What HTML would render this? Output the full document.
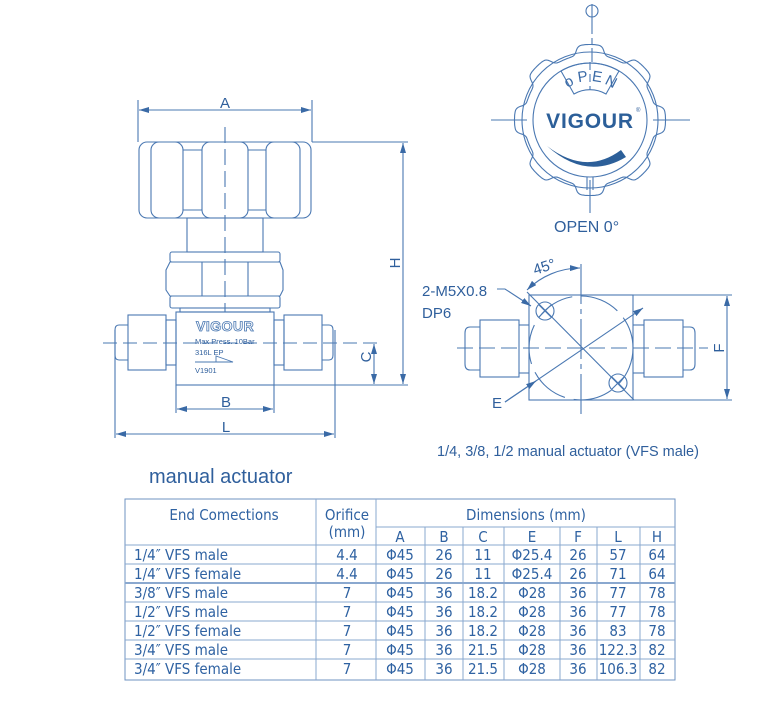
<!DOCTYPE html>
<html><head><meta charset="utf-8"><style>
html,body{margin:0;padding:0;background:#fff;}
svg{display:block;font-family:"Liberation Sans",sans-serif;}
</style></head><body>
<svg id="s" width="780" height="708" viewBox="0 0 780 708" xmlns="http://www.w3.org/2000/svg">
<defs>
<marker id="ar" viewBox="0 0 10 6" refX="10" refY="3" markerWidth="10" markerHeight="6" orient="auto-start-reverse" markerUnits="userSpaceOnUse"><path d="M0,0L10,3L0,6z" fill="#3a6aa6"/></marker>
</defs>
<g fill="none" stroke="#4a78b2" stroke-width="1.1">
<line x1="138" y1="100" x2="138" y2="142"/><line x1="312" y1="100" x2="312" y2="142"/>
<line x1="139" y1="110" x2="311" y2="110" marker-start="url(#ar)" marker-end="url(#ar)"/>
<rect x="139" y="142" width="172" height="76" rx="8"/>
<rect x="151" y="142" width="32" height="76" rx="8"/>
<rect x="202" y="142" width="46" height="76" rx="8"/>
<rect x="266" y="142" width="34" height="76" rx="8"/>
<line x1="183" y1="150" x2="202" y2="150"/><line x1="183" y1="210" x2="202" y2="210"/>
<line x1="248" y1="150" x2="266" y2="150"/><line x1="248" y1="210" x2="266" y2="210"/>
<rect x="187" y="218" width="76" height="34"/>
<rect x="170" y="252" width="110" height="10" rx="2"/>
<path d="M170,262 H280 L283,270 V290 L280,296 H170 L166,290 V270 Z"/>
<line x1="202" y1="262" x2="202" y2="296"/><line x1="248" y1="262" x2="248" y2="296"/>
<rect x="170" y="296" width="110" height="12" rx="2"/>
<rect x="180" y="308" width="90" height="4"/>
<rect x="176" y="312" width="98" height="73"/>
<rect x="128" y="315" width="38" height="55"/>
<path d="M128,325 H119 Q115,325 115,330 V355 Q115,360 119,360 H128"/>
<rect x="166" y="320" width="10" height="45"/>
<rect x="284" y="315" width="38" height="55"/>
<path d="M322,325 H329 Q333,325 333,330 V355 Q333,360 329,360 H322"/>
<rect x="274" y="320" width="10" height="45"/>
<line x1="103" y1="343" x2="380" y2="343" stroke-dasharray="14,6"/>
<line x1="225" y1="127" x2="225" y2="312" stroke-dasharray="16,6"/>
<line x1="312" y1="142" x2="408" y2="142"/><line x1="274" y1="385" x2="408" y2="385"/>
<line x1="403" y1="143" x2="403" y2="384" marker-start="url(#ar)" marker-end="url(#ar)"/>
<line x1="374" y1="344" x2="374" y2="384" marker-start="url(#ar)" marker-end="url(#ar)"/>
<line x1="176" y1="385" x2="176" y2="413"/><line x1="274" y1="385" x2="274" y2="413"/>
<line x1="177" y1="409" x2="273" y2="409" marker-start="url(#ar)" marker-end="url(#ar)"/>
<line x1="115" y1="330" x2="115" y2="438"/><line x1="335" y1="330" x2="335" y2="438"/>
<line x1="116" y1="434" x2="334" y2="434" marker-start="url(#ar)" marker-end="url(#ar)"/>
<path d="M195,362 H233 L216,356 V362" stroke-width="0.9"/>

<circle cx="592" cy="11" r="6"/>
<line x1="592" y1="4" x2="592" y2="62" stroke-dasharray="30,4,6,4"/>
<path id="scal" d=""/>
<circle cx="590" cy="120" r="68"/>
<circle cx="590" cy="120" r="57"/>
<path d="M561,71 A57,57 0 0 1 619,71 L606,94 A32,32 0 0 0 574,94 Z"/>
<line x1="491" y1="120" x2="527" y2="120"/><line x1="653" y1="120" x2="690" y2="120"/>
<line x1="590" y1="62" x2="590" y2="90" stroke-dasharray="8,4"/>
<line x1="590" y1="180" x2="590" y2="213"/>
<line x1="587" y1="177" x2="587" y2="190"/><line x1="593" y1="177" x2="593" y2="190"/>

<rect x="529" y="295" width="104" height="105"/>
<circle cx="581" cy="348" r="52" stroke-dasharray="40,9"/>
<circle cx="545" cy="311" r="9"/><circle cx="618" cy="383" r="9"/>
<line x1="539" y1="305" x2="551" y2="317"/><line x1="551" y1="305" x2="539" y2="317"/>
<line x1="612" y1="377" x2="624" y2="389"/><line x1="624" y1="377" x2="612" y2="389"/>
<rect x="480" y="320" width="39" height="57"/>
<path d="M480,327 H470 Q465,327 465,333 V364 Q465,370 470,370 H480"/>
<line x1="519" y1="325" x2="529" y2="325"/><line x1="519" y1="373" x2="529" y2="373"/>
<rect x="644" y="320" width="39" height="57"/>
<path d="M683,327 H690 Q695,327 695,333 V364 Q695,370 690,370 H683"/>
<line x1="633" y1="325" x2="644" y2="325"/><line x1="633" y1="373" x2="644" y2="373"/>
<line x1="457" y1="348" x2="708" y2="348" stroke-dasharray="16,6"/>
<line x1="581" y1="264" x2="581" y2="416" stroke-dasharray="40,5,5,5"/>
<line x1="527" y1="292" x2="634" y2="400"/>
<line x1="505" y1="402" x2="643" y2="308" marker-end="url(#ar)"/>
<line x1="505" y1="402" x2="536" y2="381" marker-end="url(#ar)"/>
<path d="M527,290 A76,76 0 0 1 580,268" marker-start="url(#ar)" marker-end="url(#ar)"/>
<path d="M497,289 H505 L531,306" marker-end="url(#ar)"/>
<line x1="633" y1="295" x2="732" y2="295"/><line x1="633" y1="400" x2="732" y2="400"/>
<line x1="727" y1="296" x2="727" y2="399" marker-start="url(#ar)" marker-end="url(#ar)"/>
</g>
<path d="M547,146 Q586,176 621,150 L626,157 Q586,181 547,146 Z" fill="#2c5f99"/>
<g fill="#2f5f9c">
<text x="225" y="108" font-size="15" text-anchor="middle">A</text>
<text x="226" y="407" font-size="15" text-anchor="middle">B</text>
<text x="226" y="432" font-size="15" text-anchor="middle">L</text>
<text transform="translate(400,263) rotate(-90)" font-size="15" text-anchor="middle">H</text>
<text transform="translate(371,357) rotate(-90)" font-size="15" text-anchor="middle">C</text>
<text transform="translate(724,348) rotate(-90)" font-size="15" text-anchor="middle">F</text>
<text x="196" y="331" font-size="14" font-weight="bold" fill="#fff" stroke="#4a78b2" stroke-width="0.8" letter-spacing="0.5">VIGOUR</text>
<text x="195" y="344" font-size="7.5">Max Press. 10Bar</text>
<text x="195" y="355" font-size="7.5">316L  EP</text>
<text x="195" y="373" font-size="7.5">V1901</text>
<g font-size="15" text-anchor="middle" fill="#3a6aa6">
<text transform="translate(571,86) rotate(-27)">o</text>
<text transform="translate(583.5,81.5) rotate(-9)">P</text>
<text transform="translate(596.5,81.5) rotate(9)">E</text>
<text transform="translate(609,86) rotate(27)">N</text>
</g>
<text x="590" y="128" font-size="21" font-weight="bold" text-anchor="middle" fill="#2c5f99" letter-spacing="0.8">VIGOUR</text>
<text x="636" y="112" font-size="6">®</text>
<text x="554" y="232" font-size="16">OPEN  0°</text>
<text transform="translate(535,275) rotate(-18)" font-size="15">45°</text>
<text x="422" y="296" font-size="15">2-M5X0.8</text>
<text x="422" y="318" font-size="15">DP6</text>
<text x="492" y="408" font-size="15">E</text>
<text x="437" y="456" font-size="14.5">1/4, 3/8, 1/2 manual actuator (VFS male)</text>
<text x="149" y="483" font-size="20">manual actuator</text>
</g>
<g stroke="#8aa8cf" stroke-width="1" fill="none">
<rect x="125" y="499" width="550" height="181" stroke="#6f93c2"/>
<line x1="316" y1="499" x2="316" y2="680"/>
<line x1="376" y1="499" x2="376" y2="680"/>
<line x1="376" y1="527" x2="675" y2="527"/>
<line x1="425" y1="527" x2="425" y2="680"/><line x1="463" y1="527" x2="463" y2="680"/>
<line x1="504" y1="527" x2="504" y2="680"/><line x1="560" y1="527" x2="560" y2="680"/>
<line x1="597" y1="527" x2="597" y2="680"/><line x1="640" y1="527" x2="640" y2="680"/>
<line x1="125" y1="545" x2="675" y2="545"/><line x1="125" y1="564" x2="675" y2="564"/>
<line x1="125" y1="583" x2="675" y2="583" stroke-width="2"/><line x1="125" y1="602" x2="675" y2="602"/>
<line x1="125" y1="621" x2="675" y2="621"/><line x1="125" y1="640" x2="675" y2="640"/>
<line x1="125" y1="659" x2="675" y2="659"/>
</g>
<g fill="#2f62a2" font-size="15" font-family="'DejaVu Sans Condensed','Liberation Sans',sans-serif">
<text x="224" y="520" text-anchor="middle">End Comections</text>
<text x="347" y="520" text-anchor="middle">Orifice</text>
<text x="347" y="537" text-anchor="middle">(mm)</text>
<text x="526" y="520" text-anchor="middle">Dimensions (mm)</text>
<g text-anchor="middle">
<text x="400" y="542">A</text><text x="444" y="542">B</text><text x="483" y="542">C</text><text x="532" y="542">E</text><text x="578" y="542">F</text><text x="618" y="542">L</text><text x="657" y="542">H</text>
</g>
<text x="134" y="560">1/4″  VFS male</text>
<text x="134" y="579">1/4″  VFS female</text>
<text x="134" y="598">3/8″  VFS male</text>
<text x="134" y="617">1/2″  VFS male</text>
<text x="134" y="636">1/2″  VFS female</text>
<text x="134" y="655">3/4″  VFS male</text>
<text x="134" y="674">3/4″  VFS female</text>
<g text-anchor="middle">
<text x="347" y="560">4.4</text><text x="400" y="560">Φ45</text><text x="444" y="560">26</text><text x="483" y="560">11</text><text x="532" y="560">Φ25.4</text><text x="578" y="560">26</text><text x="618" y="560">57</text><text x="657" y="560">64</text>
<text x="347" y="579">4.4</text><text x="400" y="579">Φ45</text><text x="444" y="579">26</text><text x="483" y="579">11</text><text x="532" y="579">Φ25.4</text><text x="578" y="579">26</text><text x="618" y="579">71</text><text x="657" y="579">64</text>
<text x="347" y="598">7</text><text x="400" y="598">Φ45</text><text x="444" y="598">36</text><text x="483" y="598">18.2</text><text x="532" y="598">Φ28</text><text x="578" y="598">36</text><text x="618" y="598">77</text><text x="657" y="598">78</text>
<text x="347" y="617">7</text><text x="400" y="617">Φ45</text><text x="444" y="617">36</text><text x="483" y="617">18.2</text><text x="532" y="617">Φ28</text><text x="578" y="617">36</text><text x="618" y="617">77</text><text x="657" y="617">78</text>
<text x="347" y="636">7</text><text x="400" y="636">Φ45</text><text x="444" y="636">36</text><text x="483" y="636">18.2</text><text x="532" y="636">Φ28</text><text x="578" y="636">36</text><text x="618" y="636">83</text><text x="657" y="636">78</text>
<text x="347" y="655">7</text><text x="400" y="655">Φ45</text><text x="444" y="655">36</text><text x="483" y="655">21.5</text><text x="532" y="655">Φ28</text><text x="578" y="655">36</text><text x="618" y="655">122.3</text><text x="657" y="655">82</text>
<text x="347" y="674">7</text><text x="400" y="674">Φ45</text><text x="444" y="674">36</text><text x="483" y="674">21.5</text><text x="532" y="674">Φ28</text><text x="578" y="674">36</text><text x="618" y="674">106.3</text><text x="657" y="674">82</text>
</g>
</g>
<script>
(function(){
var s="";for(var i=0;i<=360;i++){var t=i*Math.PI/180;var r=70.5+5*Math.tanh(3*Math.cos(8*t));s+=(i?"L":"M")+(590+r*Math.sin(t)).toFixed(1)+","+(120-r*Math.cos(t)).toFixed(1);}
document.getElementById("scal").setAttribute("d",s+"Z");
})();
</script>
</svg>
</body></html>
